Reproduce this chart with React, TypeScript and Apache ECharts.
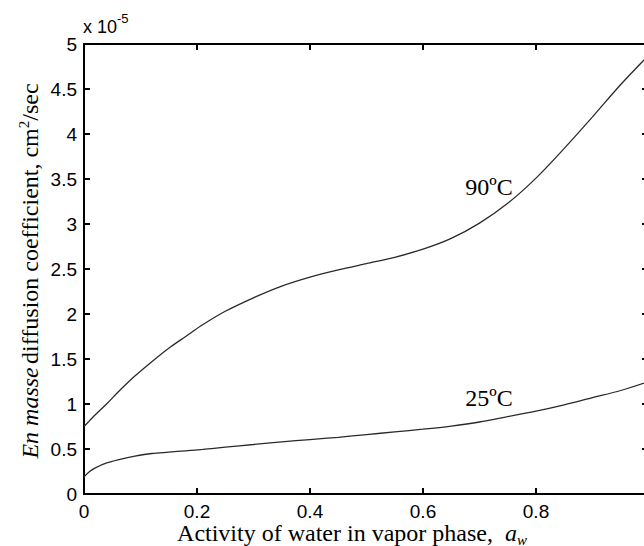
import React, { useEffect, useRef } from "react";
import * as echarts from "echarts";

const activity = [0, 0.01, 0.02, 0.04, 0.06, 0.09, 0.12, 0.15, 0.18, 0.21, 0.25, 0.3, 0.35, 0.4, 0.45, 0.5, 0.55, 0.6, 0.65, 0.7, 0.75, 0.8, 0.85, 0.9, 0.95, 1.0];
const d90 = [0.75, 0.815, 0.88, 1.0, 1.13, 1.31, 1.47, 1.62, 1.75, 1.88, 2.03, 2.18, 2.31, 2.41, 2.49, 2.56, 2.63, 2.72, 2.84, 3.01, 3.23, 3.51, 3.84, 4.19, 4.55, 4.88];
const d25 = [0.19, 0.25, 0.29, 0.345, 0.38, 0.42, 0.45, 0.465, 0.48, 0.495, 0.52, 0.55, 0.58, 0.605, 0.63, 0.66, 0.69, 0.72, 0.755, 0.8, 0.86, 0.92, 0.99, 1.07, 1.15, 1.25];
const xTicks = [0, 0.2, 0.4, 0.6, 0.8, 1];
const yTicks = [0, 0.5, 1, 1.5, 2, 2.5, 3, 3.5, 4, 4.5, 5];
const seriesLabels = ["90ºC", "25ºC"];

const sans = "Liberation Sans, Arial, sans-serif";
const serif = "Liberation Serif, Times New Roman, serif";

export default function App() {
  const ref = useRef<HTMLDivElement>(null);
  useEffect(() => {
    document.body.style.margin = "0";
    const chart = echarts.init(ref.current!, null, { renderer: "svg" });
    const fmtX = (v: number) => (xTicks.includes(+v.toFixed(1)) ? String(+v.toFixed(1)) : "");
    const fmtY = (v: number) => (yTicks.includes(+v.toFixed(1)) ? String(+v.toFixed(1)) : "");
    const axisLine = { show: true, onZero: false, lineStyle: { color: "#000", width: 2 } };
    const tick = { show: true, inside: true, length: 6, lineStyle: { color: "#000", width: 2 } };
    const label = { color: "#000", fontFamily: sans, fontSize: 19 };
    chart.setOption({
      animation: false,
      backgroundColor: "#fff",
      grid: { left: 84, top: 44, width: 565, height: 450, containLabel: false, outerBoundsMode: "none" },
      xAxis: [
        {
          type: "value", min: 0, max: 1, interval: 0.2, position: "bottom",
          axisLine, axisTick: tick, splitLine: { show: false },
          axisLabel: { ...label, margin: 8, formatter: fmtX },
        },
        {
          type: "value", min: 0, max: 1, interval: 0.2, position: "top",
          axisLine, axisTick: tick, splitLine: { show: false }, axisLabel: { show: false },
        },
      ],
      yAxis: [
        {
          type: "value", min: 0, max: 5, interval: 0.5, position: "left",
          axisLine, axisTick: tick, splitLine: { show: false },
          axisLabel: { ...label, margin: 7, formatter: fmtY },
        },
        {
          type: "value", min: 0, max: 5, interval: 0.5, position: "right",
          axisLine, axisTick: { ...tick, length: 7 }, splitLine: { show: false }, axisLabel: { show: false },
        },
      ],
      series: [
        {
          type: "line", name: seriesLabels[0], data: activity.map((a, i) => [a, d90[i]]),
          smooth: 0.3, showSymbol: false, symbol: "none",
          lineStyle: { color: "#2a2a2a", width: 1.3 },
        },
        {
          type: "line", name: seriesLabels[1], data: activity.map((a, i) => [a, d25[i]]),
          smooth: 0.3, showSymbol: false, symbol: "none",
          lineStyle: { color: "#2a2a2a", width: 1.3 },
        },
      ],
      graphic: [
        {
          type: "text", x: 489, y: 187,
          style: { text: seriesLabels[0], font: `24px ${serif}`, fill: "#000", textAlign: "center", textVerticalAlign: "middle" },
        },
        {
          type: "text", x: 489, y: 398,
          style: { text: seriesLabels[1], font: `24px ${serif}`, fill: "#000", textAlign: "center", textVerticalAlign: "middle" },
        },
        {
          type: "text", x: 83, y: 24,
          style: {
            text: "{n|x 10}{s|-5}",
            textAlign: "left", textVerticalAlign: "middle", fill: "#000",
            rich: {
              n: { fontFamily: sans, fontSize: 18, lineHeight: 24, verticalAlign: "bottom", fill: "#000" },
              s: { fontFamily: sans, fontSize: 13, lineHeight: 16, verticalAlign: "top", fill: "#000" },
            },
          },
        },
        {
          type: "text", x: 29, y: 271, rotation: Math.PI / 2,
          style: {
            text: "{i|En masse} {n|diffusion coefficient, cm}{s|2}{n|/sec}",
            textAlign: "center", textVerticalAlign: "middle", fill: "#000",
            rich: {
              i: { fontFamily: serif, fontStyle: "italic", fontSize: 24, lineHeight: 26, verticalAlign: "bottom", fill: "#000" },
              n: { fontFamily: serif, fontSize: 24, lineHeight: 26, verticalAlign: "bottom", fill: "#000" },
              s: { fontFamily: serif, fontSize: 15, lineHeight: 18, verticalAlign: "top", fill: "#000" },
            },
          },
        },
        {
          type: "text", x: 352, y: 534,
          style: {
            text: "{n|Activity of water in vapor phase,  }{i|a}{w|w}",
            textAlign: "center", textVerticalAlign: "middle", fill: "#000",
            rich: {
              n: { fontFamily: serif, fontSize: 24, lineHeight: 26, verticalAlign: "top", fill: "#000" },
              i: { fontFamily: serif, fontStyle: "italic", fontSize: 24, lineHeight: 26, verticalAlign: "top", fill: "#000" },
              w: { fontFamily: serif, fontStyle: "italic", fontSize: 15, lineHeight: 18, verticalAlign: "bottom", fill: "#000" },
            },
          },
        },
      ],
    });
    return () => chart.dispose();
  }, []);
  return <div ref={ref} style={{ width: 644, height: 546 }} />;
}
